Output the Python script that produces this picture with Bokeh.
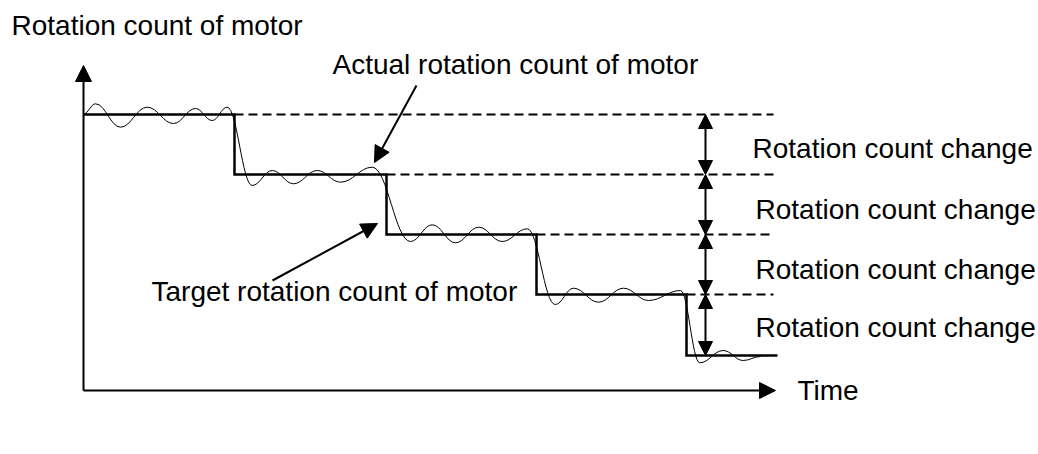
from bokeh.plotting import figure
from bokeh.models import Arrow, NormalHead, Label
from bokeh.embed import file_html
from bokeh.resources import INLINE

# ---- values (arbitrary time / rotation-count units) ----
step_times = [151, 303, 453, 603]            # when the target count steps down
target_levels = [276, 216, 156, 96, 35]      # target rotation count per interval
t_end = 694                                  # end of the target trace
dash_end = 690                               # end of the dashed reference lines
t_axis_end = 692
c_axis_end = 325

# actual rotation count: successive peaks / troughs of the damped response
actual_t = [0, 12, 37, 63.7, 90, 112, 128.7, 143.7,
            168.7, 188.7, 210, 233.7, 257, 288.7,
            327, 348.7, 372, 395.3, 418.7, 443.7,
            471.7, 490, 515, 540, 565, 597,
            616.3, 639.7, 659.7, 677]
actual_c = [276.5, 286.7, 263.3, 283.3, 267, 282, 270, 283.3,
            205, 220, 206.7, 220, 208.3, 223.3,
            149, 165.7, 147.7, 163.3, 149, 161.7,
            86, 102.3, 88.3, 102.3, 90, 100,
            27.7, 40, 30, 34]

axis_y_label = "Rotation count of motor"
axis_x_label = "Time"
actual_label = "Actual rotation count of motor"
target_label = "Target rotation count of motor"
change_label = "Rotation count change"

FONT = "Liberation Sans"
FS = "28px"

p = figure(width=1038, height=454, x_range=(-83, 955), y_range=(-64, 390),
           output_backend="svg", toolbar_location=None, min_border=0,
           x_axis_type=None, y_axis_type=None)
p.grid.visible = False
p.outline_line_color = None
p.background_fill_color = "white"

# axes with arrow heads
p.add_layout(Arrow(x_start=0, y_start=0, x_end=0, y_end=c_axis_end,
                   line_width=2, line_color="black",
                   end=NormalHead(size=16, fill_color="black", line_color="black")))
p.add_layout(Arrow(x_start=0, y_start=0, x_end=t_axis_end, y_end=0,
                   line_width=2, line_color="black",
                   end=NormalHead(size=16, fill_color="black", line_color="black")))

# dashed reference lines at each previous target level
p.segment(x0=step_times, y0=target_levels[:4], x1=[dash_end] * 4, y1=target_levels[:4],
          line_color="black", line_width=2, line_dash="9 5")

# target (step) trace
xs, ys = [0], [target_levels[0]]
for i, t in enumerate(step_times):
    xs += [t, t]
    ys += [target_levels[i], target_levels[i + 1]]
xs.append(t_end)
ys.append(target_levels[-1])
p.line(xs, ys, line_color="black", line_width=2.5, line_join="miter")

# actual trace: smooth curve through extrema (horizontal tangents at extrema)
x0 = actual_t[:-1]; x1 = actual_t[1:]
y0 = actual_c[:-1]; y1 = actual_c[1:]
cx0 = [a + (b - a) * 0.4 for a, b in zip(x0, x1)]
cx1 = [b - (b - a) * 0.4 for a, b in zip(x0, x1)]
p.bezier(x0=x0, y0=y0, x1=x1, y1=y1, cx0=cx0, cy0=y0, cx1=cx1, cy1=y1,
         line_color="black", line_width=1)

# double-headed arrows showing the change per step
for i in range(4):
    p.add_layout(Arrow(x_start=622, y_start=target_levels[i + 1], x_end=622, y_end=target_levels[i],
                       line_width=2, line_color="black",
                       start=NormalHead(size=14, fill_color="black", line_color="black"),
                       end=NormalHead(size=14, fill_color="black", line_color="black")))

# pointer arrows
p.add_layout(Arrow(x_start=333, y_start=305, x_end=291, y_end=228, line_width=2, line_color="black",
                   end=NormalHead(size=16, fill_color="black", line_color="black")))
p.add_layout(Arrow(x_start=189, y_start=110, x_end=294, y_end=167, line_width=2, line_color="black",
                   end=NormalHead(size=16, fill_color="black", line_color="black")))

def lab(x, y, text):
    p.add_layout(Label(x=x, y=y, text=text, text_font=FONT, text_font_size=FS,
                       text_color="black", text_baseline="middle", text_align="left"))

lab(-72, 365, axis_y_label)
lab(714, 0, axis_x_label)
lab(249, 326, actual_label)
lab(68, 99, target_label)
change_x = [669, 672, 672, 672]
change_y = [242, 181, 121, 63]
for cx, cy in zip(change_x, change_y):
    lab(cx, cy, change_label)

open("out.html", "w").write(file_html(p, INLINE))
